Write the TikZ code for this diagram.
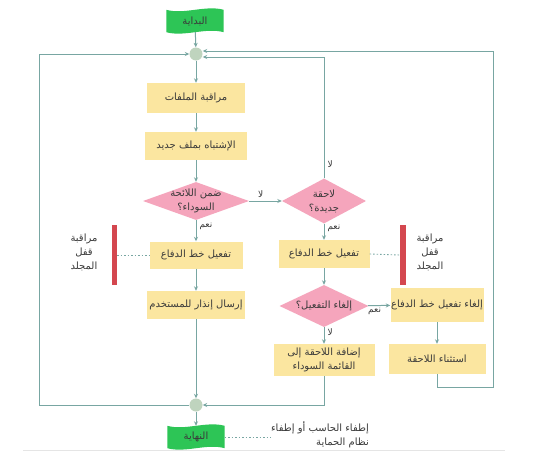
\documentclass[tikz,border=0pt]{standalone}
\usepackage{fontspec}
\usepackage{tikz}
\usetikzlibrary{shapes.geometric,arrows.meta,positioning,calc,backgrounds}
\TeXXeTstate=1
\newfontfamily\arfont[Script=Arabic]{DejaVu Sans}
\newcommand\artxt[1]{\beginR #1\endR}
\definecolor{boxc}{HTML}{FBE6A0}
\definecolor{diac}{HTML}{F5A5BC}
\definecolor{linec}{HTML}{78A6A2}
\definecolor{flagc}{HTML}{2DC556}
\definecolor{juncc}{HTML}{BFD4BE}
\definecolor{barc}{HTML}{D4474F}
\definecolor{txtc}{HTML}{3A3A3A}
\tikzset{
  base/.style={font=\arfont\fontsize{10}{14}\selectfont, text=txtc, inner sep=0pt, align=center},
  proc/.style={base, fill=boxc},
  decide/.style={base, diamond, fill=diac, inner sep=-2pt},
  lbl/.style={base, font=\arfont\fontsize{9}{11}\selectfont},
  junc/.style={circle, fill=juncc, minimum size=13pt, inner sep=0pt},
  flag/.style={base, minimum width=57pt, minimum height=22pt},
  lockbar/.style={fill=barc, minimum width=5pt, minimum height=60pt, inner sep=0pt},
  flow/.style={draw=linec, line width=1pt, -{Stealth[length=4.5pt,width=4pt]}},
  dots/.style={draw=linec, line width=0.9pt, dash pattern=on 1.5pt off 2pt},
}

\begin{document}
\begin{tikzpicture}[x=1pt,y=-1pt]
    \draw[black!10, line width=0.6pt] (23,450) -- (505,450);

    % left column
    \node[flag] (start) at (195,21) {\artxt{البداية}};
    \node[junc] (c1) at (196,54) {};
    \node[proc, minimum width=98pt, minimum height=30pt] (watch) at (196,98) {\artxt{مراقبة الملفات}};
    \node[proc, minimum width=102pt, minimum height=28pt] (suspect) at (196,146) {\artxt{الإشتباه بملف جديد}};
    \node[decide, minimum width=106pt, minimum height=38pt, aspect=2.8] (blacklist) at (196,201) {\artxt{ضمن اللائحة}\\\artxt{السوداء؟}};
    \node[proc, minimum width=93pt, minimum height=27pt] (act1) at (196,255) {\artxt{تفعيل خط الدفاع}};
    \node[proc, minimum width=98pt, minimum height=28pt] (alert) at (196,305) {\artxt{إرسال إنذار للمستخدم}};
    \node[junc] (c2) at (196,405) {};
    \node[flag] (end) at (196,437) {\artxt{النهاية}};
    \node[base, anchor=east, align=right] (off) at (369,435) {\artxt{إطفاء الحاسب أو إطفاء}\\\artxt{نظام الحماية}};

    \node[lockbar] (bar1) at (114.5,255) {};
    \node[base] (lock1) at (84,252) {\artxt{مراقبة}\\\artxt{قفل}\\\artxt{المجلد}};

    % right column
    \node[decide, minimum width=84pt, minimum height=45pt, aspect=1.9] (newext) at (324,201) {\artxt{لاحقة}\\\artxt{جديدة؟}};
    \node[proc, minimum width=91pt, minimum height=28pt] (act2) at (324,254) {\artxt{تفعيل خط الدفاع}};
    \node[decide, minimum width=89pt, minimum height=42pt, aspect=2.1] (cancel) at (324,306) {\artxt{إلغاء التفعيل؟}};
    \node[proc, minimum width=101pt, minimum height=32pt] (addbl) at (324,360) {\artxt{إضافة اللاحقة إلى}\\\artxt{القائمة السوداء}};
    \node[proc, minimum width=93pt, minimum height=34pt] (deact) at (437,305) {\artxt{إلغاء تفعيل خط الدفاع}};
    \node[proc, minimum width=97pt, minimum height=30pt] (except) at (437,359) {\artxt{استثناء اللاحقة}};

    \node[lockbar, minimum width=6pt] (bar2) at (403,255) {};
    \node[base] (lock2) at (430,252) {\artxt{مراقبة}\\\artxt{قفل}\\\artxt{المجلد}};

    % background and flags
    \begin{scope}[on background layer]
      \fill[white] (0,0) rectangle (555,458);
      \foreach \f in {start,end}
        \fill[flagc] (\f.north west) .. controls +(18,5) and +(-18,-5) .. (\f.north east)
          -- (\f.south east) .. controls +(-18,-5) and +(18,5) .. (\f.south west) -- cycle;
    \end{scope}

    \coordinate (lft) at (39,54);
    \coordinate (rgt) at (493,387);

    % connectors
    \draw[flow] (start) -- (c1);
    \draw[flow] (c1) -- (watch);
    \draw[flow] (watch) -- (suspect);
    \draw[flow] (suspect) -- (blacklist);
    \draw[flow] (blacklist) -- node[lbl, right=3pt, pos=0.3] {\artxt{نعم}} (act1);
    \draw[flow] (blacklist) -- node[lbl, above=3pt, pos=0.35] {\artxt{لا}} (newext);
    \draw[flow] (act1) -- (alert);
    \draw[flow] (alert) -- (c2);
    \draw[flow] (c2) -- (end);
    \draw[flow] (c2) -| (lft) -- (c1);

    \draw[flow] (newext.north) |- node[lbl, right=3pt, pos=0.06] {\artxt{لا}} ([yshift=-3pt]c1.east);
    \draw[flow] (newext) -- node[lbl, right=3pt, pos=0.3] {\artxt{نعم}} (act2);
    \draw[flow] (act2) -- (cancel);
    \draw[flow] (cancel) -- node[lbl, below=2pt, pos=0.3] {\artxt{نعم}} (deact);
    \draw[flow] (cancel) -- node[lbl, right=3pt, pos=0.3] {\artxt{لا}} (addbl);
    \draw[flow] (deact) -- (except);
    \draw[flow] (addbl) |- (c2);
    \draw[flow] (except.south) |- (rgt) |- ([yshift=3pt]c1.east);

    \draw[dots] (bar1.east) -- (act1.west);
    \draw[dots] (act2.east) -- (bar2.west);
    \draw[dots] (end.east) -- (end.east -| off.west);
\end{tikzpicture}
\end{document}
